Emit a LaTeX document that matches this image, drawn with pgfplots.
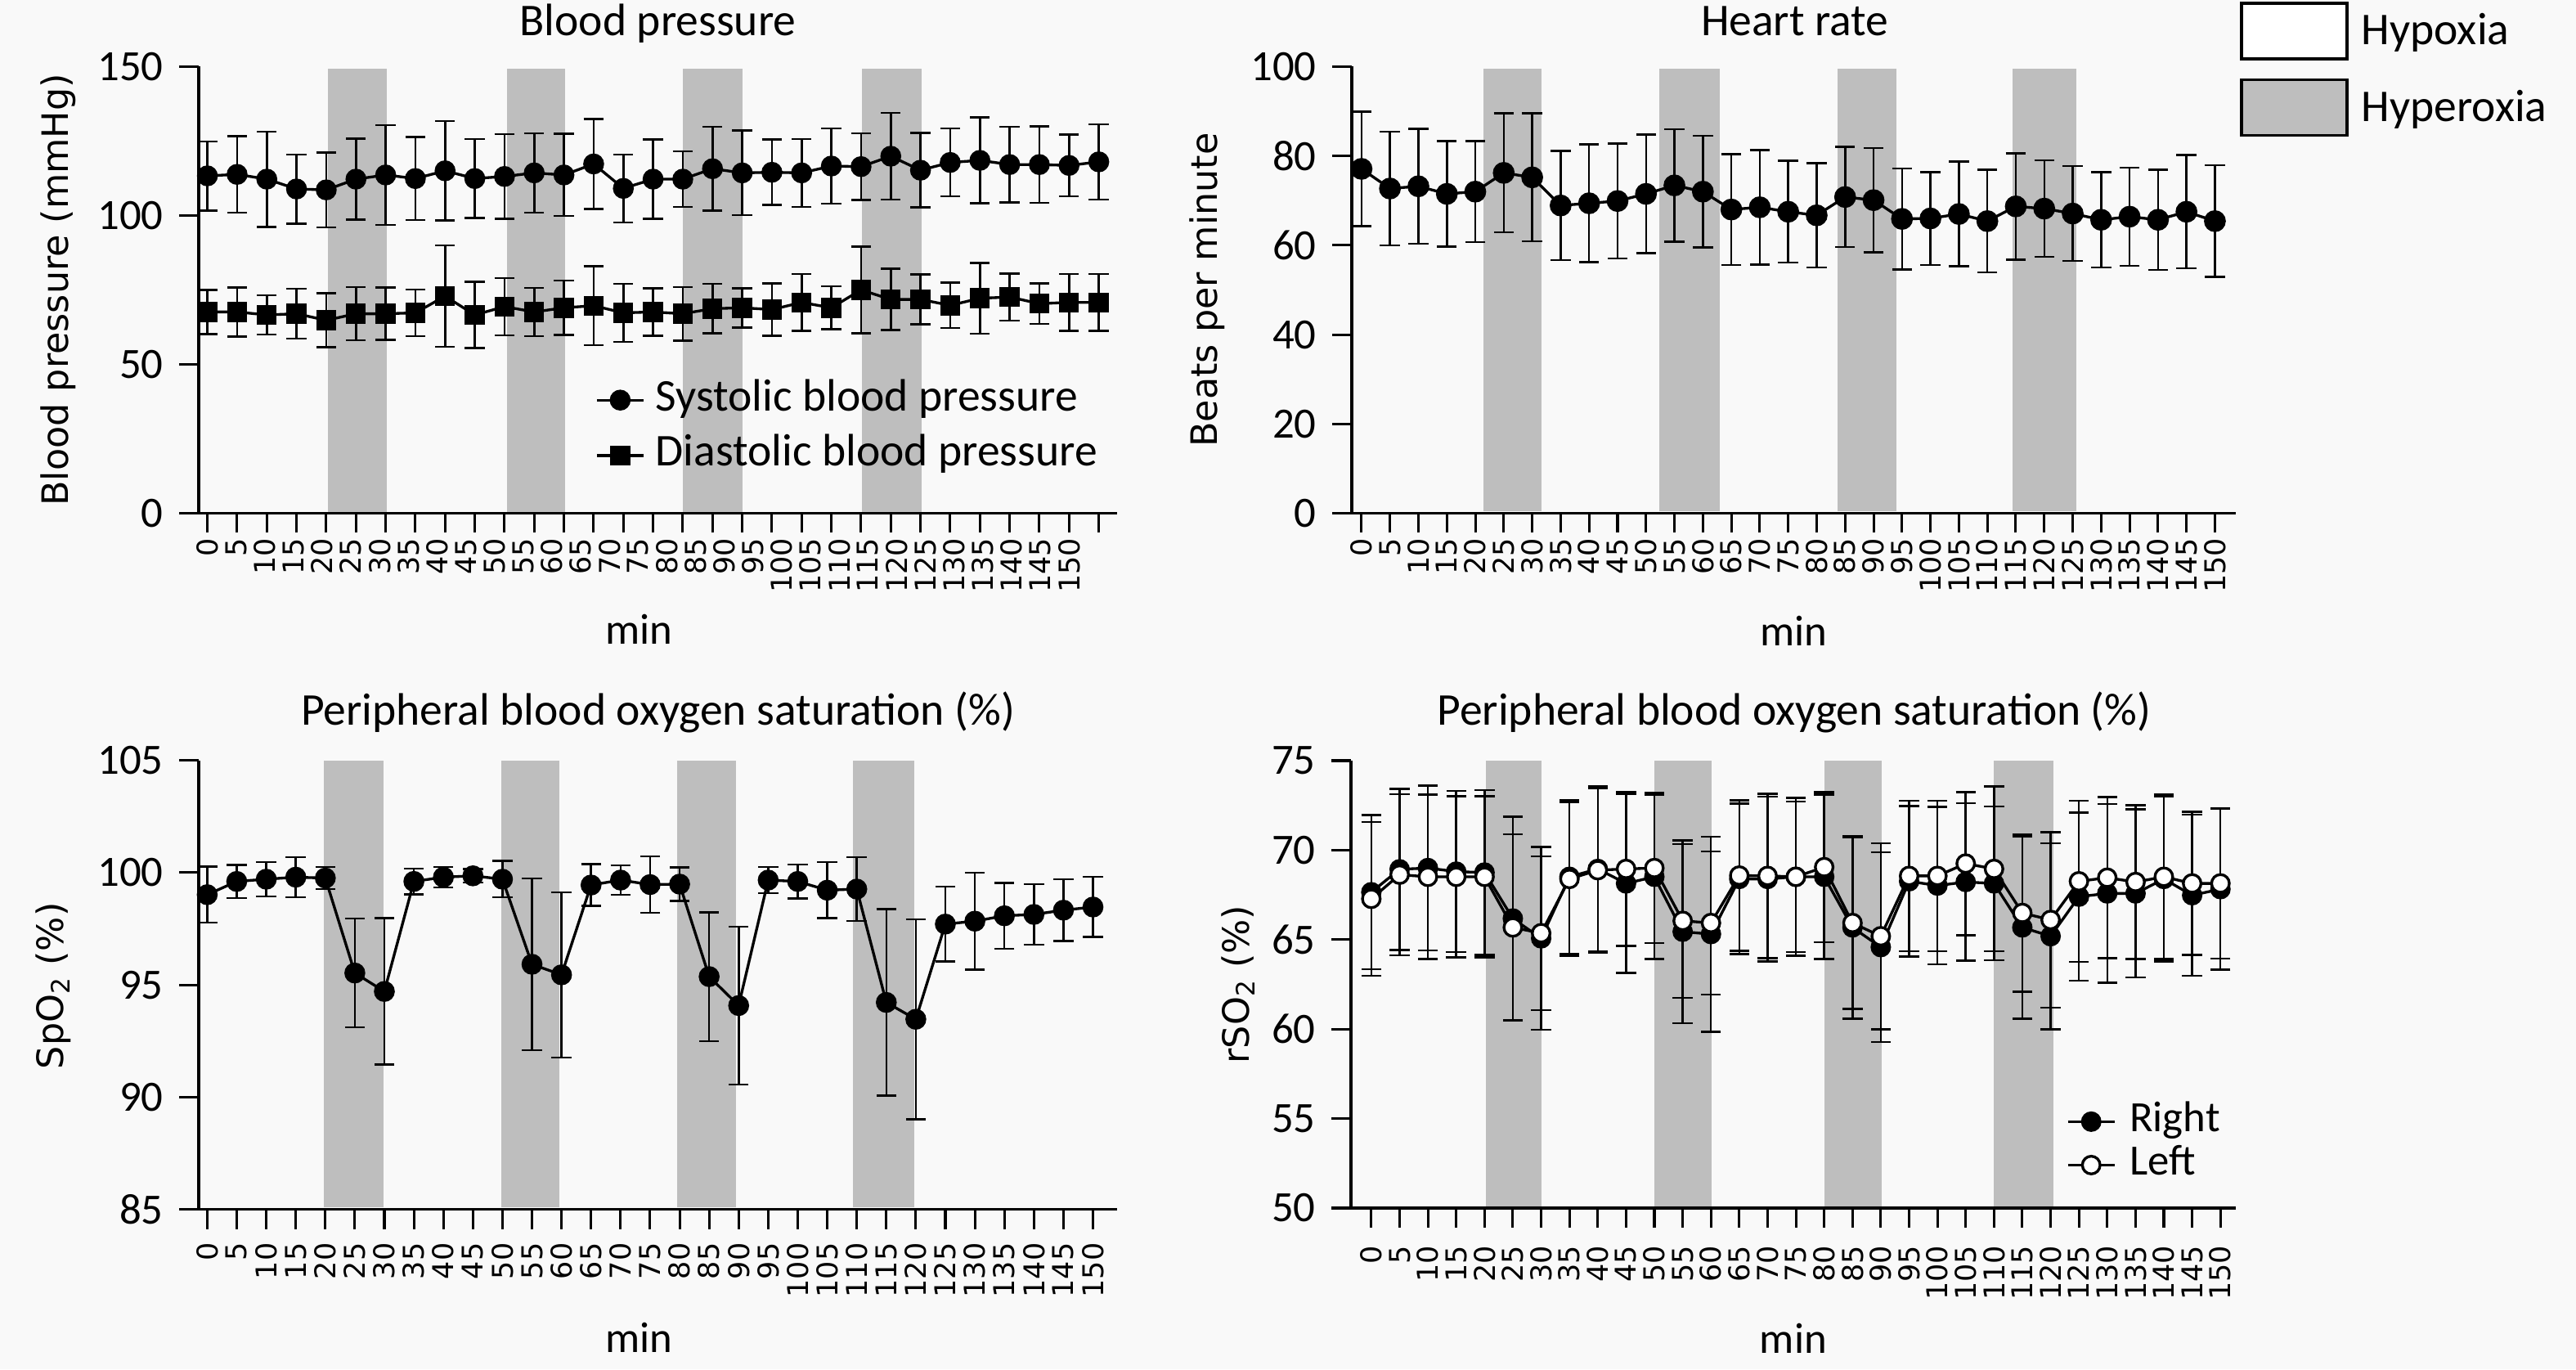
\documentclass[border=0pt]{standalone}
\usepackage{pgfplots}
\pgfplotsset{compat=1.18}
\usepackage{pgfplotstable}
\usepackage{fontspec}
\setmainfont{Carlito}
\newfontfamily\dejavu{DejaVu Sans}

\definecolor{shade}{RGB}{190,190,190}
\definecolor{paper}{RGB}{249,249,249}

% blood pressure (mmHg): systolic, diastolic, with error
\pgfplotstableread{
t sys syse dia diae
0 113.3 11.6 67.6 7.4
5 113.8 12.8 67.6 8.2
10 112.2 16.0 66.6 6.6
15 108.9 11.6 67.0 8.4
20 108.6 12.6 64.8 9.1
25 112.2 13.6 67.0 8.9
30 113.6 16.8 67.0 8.8
35 112.4 13.9 67.3 7.8
40 115.0 16.7 72.9 17.0
45 112.4 13.2 66.6 11.1
50 113.1 14.2 69.4 9.6
55 114.3 13.3 67.6 8.1
60 113.6 13.8 69.0 9.1
65 117.3 15.1 69.7 13.2
70 109.1 11.4 67.3 9.7
75 112.2 13.3 67.6 8.0
80 112.2 9.3 67.0 9.0
85 115.7 14.1 68.7 8.3
90 114.3 14.2 69.0 6.6
95 114.5 11.0 68.4 8.8
100 114.3 11.4 70.8 9.5
105 116.6 12.6 69.0 7.2
110 116.4 11.2 75.0 14.5
115 119.9 14.6 71.8 10.3
120 115.2 12.5 71.8 8.4
125 117.8 11.4 69.8 7.6
130 118.5 14.4 72.2 11.9
135 117.1 12.7 72.6 7.9
140 117.1 12.8 70.4 6.8
145 116.8 10.4 70.8 9.6
150 118.0 12.6 70.8 9.6
}\bptab

% heart rate
\pgfplotstableread{
t hr hre
0 77.1 12.8
5 72.7 12.7
10 73.2 12.9
15 71.5 11.8
20 72.0 11.3
25 76.2 13.3
30 75.2 14.3
35 68.9 12.2
40 69.4 13.2
45 69.9 12.9
50 71.5 13.3
55 73.4 12.6
60 72.0 12.5
65 68.0 12.4
70 68.5 12.8
75 67.5 11.4
80 66.7 11.7
85 70.8 11.2
90 70.1 11.7
95 65.9 11.3
100 66.0 10.4
105 67.0 11.7
110 65.4 11.5
115 68.7 11.9
120 68.2 10.8
125 67.1 10.6
130 65.7 10.7
135 66.4 11.0
140 65.7 11.2
145 67.5 12.7
150 65.4 12.5
}\hrtab

% SpO2
\pgfplotstableread{
t spo spoe
0 99.02 1.25
5 99.61 0.74
10 99.71 0.77
15 99.80 0.90
20 99.76 0.49
25 95.53 2.42
30 94.71 3.26
35 99.61 0.58
40 99.80 0.46
45 99.86 0.30
50 99.71 0.81
55 95.92 3.82
60 95.45 3.68
65 99.45 0.93
70 99.67 0.65
75 99.47 1.25
80 99.49 0.75
85 95.37 2.87
90 94.08 3.51
95 99.67 0.59
100 99.61 0.75
105 99.22 1.25
110 99.27 1.42
115 94.22 4.15
120 93.47 4.46
125 97.71 1.67
130 97.84 2.16
135 98.08 1.47
140 98.14 1.35
145 98.33 1.37
150 98.47 1.34
}\spotab

% rSO2 right / left
\pgfplotstableread{
t r re l le
0 67.65 4.3 67.28 4.3
5 68.93 4.5 68.63 4.5
10 69.00 4.6 68.51 4.6
15 68.80 4.5 68.51 4.5
20 68.75 4.6 68.51 4.5
25 66.18 5.7 65.68 5.2
30 65.07 5.1 65.36 4.3
35 68.51 4.3 68.39 4.3
40 68.95 4.6 68.88 4.6
45 68.14 5.0 68.95 4.3
50 68.51 4.6 69.00 4.2
55 65.44 5.1 66.05 4.3
60 65.31 5.45 65.93 4.0
65 68.39 4.2 68.58 4.2
70 68.39 4.6 68.56 4.6
75 68.51 4.2 68.51 4.4
80 68.51 4.6 69.05 4.2
85 65.68 5.1 65.93 4.8
90 64.58 5.3 65.19 5.2
95 68.26 4.2 68.56 4.2
100 68.02 4.4 68.56 4.2
105 68.22 4.4 69.25 4.0
110 68.14 4.3 68.95 4.6
115 65.68 5.1 66.49 4.4
120 65.19 5.2 66.10 4.9
125 67.40 4.7 68.26 4.5
130 67.58 5.0 68.46 4.5
135 67.58 4.7 68.22 4.3
140 68.39 4.6 68.51 4.6
145 67.48 4.5 68.14 4.0
150 67.82 4.5 68.14 4.2
}\rsotab

\pgfplotsset{
  panel/.style={
    scale only axis,
    axis lines=left,
    axis line style={-, line width=1.2pt},
    x axis line style={shorten <=-8.6pt},
    axis on top,
    tick align=outside,
    major tick length=8.6pt,
    tick style={line width=1.1pt, black},
    xtick={0,5,...,150},
    /pgf/number format/assume math mode=true,
    xticklabel style={font=\dejavu\fontsize{12.6}{13}\selectfont, rotate=90, anchor=east},
    yticklabel style={font=\fontsize{19}{20}\selectfont},
    yticklabel shift=3.5pt,
    title style={font=\fontsize{20}{24}\selectfont, anchor=base},
    xlabel={min},
    xlabel style={font=\fontsize{19}{24}\selectfont, anchor=base},
    ylabel style={font=\dejavu\fontsize{16}{19}\selectfont, anchor=center},
    legend cell align=left,
    legend image code/.code={\draw[mark repeat=2,mark phase=2,#1] plot coordinates {(0pt,0pt) (10.3pt,0pt) (20.6pt,0pt)};},
  },
  series/.style={black, line width=1.2pt, mark=*, mark size=4pt, mark options={solid},
    error bars/y dir=both, error bars/y explicit,
    error bars/error bar style={line width=0.9pt},
    error bars/error mark options={rotate=90, line width=0.9pt, mark size=4.4pt}},
  band/.style={fill=shade, draw=none, forget plot},
}

\begin{document}
\begin{tikzpicture}
\useasboundingbox (0,0) rectangle (1134pt,-602.64pt);
\fill[paper] (0,0) rectangle (1134pt,-602.64pt);

% ---- blood pressure
\begin{axis}[panel, at={(87.5pt,-225.9pt)}, anchor=south west,
  width=404.3pt, height=196.6pt,
  xmin=-1.45, xmax=153.1, ymin=0, ymax=150, ytick={0,50,100,150},
  xticklabel=\empty,
  extra x ticks={0,4.83,9.67,14.5,19.33,24.17,29,33.83,38.67,43.5,48.33,53.17,58,62.83,67.67,72.5,77.33,82.17,87,91.83,96.67,101.5,106.33,111.17,116,120.83,125.67,130.5,135.33,140.17,145},
  extra x tick labels={0,5,10,15,20,25,30,35,40,45,50,55,60,65,70,75,80,85,90,95,100,105,110,115,120,125,130,135,140,145,150},
  extra x tick style={tick style={draw=none}},
  xticklabel shift=-1.2pt,
  title={Blood pressure}, title style={at={(axis description cs:0.5,1.038)}},
  xlabel style={at={(axis description cs:0.479,-0.293)}},
  ylabel={Blood pressure (mmHg)}, ylabel style={at={(axis description cs:-0.153,0.5)}},
  legend style={at={(axis description cs:0.4319,0.300)}, anchor=north west, draw=none, fill=none,
    inner sep=0pt, outer sep=0pt, font=\fontsize{20}{24}\selectfont,
    row sep=6pt, column sep=4.7pt, nodes={inner sep=0pt, text depth=4.5pt}},
]
\addplot[band] coordinates {(20.3,0.5) (20.3,149.3) (30.2,149.3) (30.2,0.5)};
\addplot[band] coordinates {(50.4,0.5) (50.4,149.3) (60.2,149.3) (60.2,0.5)};
\addplot[band] coordinates {(80.0,0.5) (80.0,149.3) (90.1,149.3) (90.1,0.5)};
\addplot[band] coordinates {(110.1,0.5) (110.1,149.3) (120.2,149.3) (120.2,0.5)};
\addplot[series] table[x=t, y=sys, y error=syse] {\bptab};
\addlegendentry{Systolic blood pressure}
\addplot[series, mark=square*, mark size=3.8pt] table[x=t, y=dia, y error=diae] {\bptab};
\addlegendentry{Diastolic blood pressure}
\end{axis}

% ---- heart rate
\begin{axis}[panel, at={(595.1pt,-225.9pt)}, anchor=south west,
  width=389.2pt, height=196.6pt,
  xmin=-1.7, xmax=153.7, ymin=0, ymax=100, ytick={0,20,...,100},
  xticklabel shift=-1.2pt,
  title={Heart rate}, title style={at={(axis description cs:0.501,1.038)}},
  xlabel style={at={(axis description cs:0.5,-0.296)}},
  ylabel={Beats per minute}, ylabel style={at={(axis description cs:-0.1637,0.5)}},
  legend style={at={(axis description cs:1.0046,1.1449)}, anchor=north west, draw=none, fill=none,
    inner sep=0pt, outer sep=0pt, font=\fontsize{20}{24}\selectfont,
    row sep=8pt, column sep=5.8pt, nodes={inner sep=0pt}},
]
\addplot[band] coordinates {(21.4,0.4) (21.4,99.6) (31.7,99.6) (31.7,0.4)};
\addplot[band] coordinates {(52.4,0.4) (52.4,99.6) (63.0,99.6) (63.0,0.4)};
\addplot[band] coordinates {(83.6,0.4) (83.6,99.6) (94.0,99.6) (94.0,0.4)};
\addplot[band] coordinates {(114.5,0.4) (114.5,99.6) (125.6,99.6) (125.6,0.4)};
\addplot[series, forget plot, mark size=4.2pt] table[x=t, y=hr, y error=hre] {\hrtab};
\addlegendimage{legend image code/.code={\draw[line width=1.3pt, fill=white] (0pt,-12.2pt) rectangle (46.4pt,12.2pt);}}
\addlegendentry{Hypoxia}
\addlegendimage{legend image code/.code={\draw[line width=1.3pt, fill=shade] (0pt,-12.2pt) rectangle (46.4pt,12.2pt);}}
\addlegendentry{Hyperoxia}
\end{axis}

% ---- SpO2
\begin{axis}[panel, at={(87.5pt,-532.3pt)}, anchor=south west,
  width=404.3pt, height=197.6pt,
  xmin=-1.43, xmax=154.1, ymin=85, ymax=105, ytick={85,90,...,105},
  xticklabel shift=2.6pt,
  title={Peripheral blood oxygen saturation (\%)}, title style={at={(axis description cs:0.5,1.048)}},
  xlabel style={at={(axis description cs:0.479,-0.318)}},
  ylabel={SpO\textsubscript{2} (\%)}, ylabel style={at={(axis description cs:-0.158,0.498)}},
]
\addplot[band] coordinates {(19.8,85.1) (19.8,105) (29.9,105) (29.9,85.1)};
\addplot[band] coordinates {(49.8,85.1) (49.8,105) (59.7,105) (59.7,85.1)};
\addplot[band] coordinates {(79.6,85.1) (79.6,105) (89.5,105) (89.5,85.1)};
\addplot[band] coordinates {(109.3,85.1) (109.3,105) (119.7,105) (119.7,85.1)};
\addplot[series] table[x=t, y=spo, y error=spoe] {\spotab};
\end{axis}

% ---- rSO2
\begin{axis}[panel, at={(594.7pt,-531.7pt)}, anchor=south west,
  width=389.5pt, height=196.9pt,
  xmin=-3.6, xmax=152.7, ymin=50, ymax=75, ytick={50,55,...,75},
  xticklabel shift=4.4pt,
  title={Peripheral blood oxygen saturation (\%)}, title style={at={(axis description cs:0.501,1.049)}},
  xlabel style={at={(axis description cs:0.5,-0.324)}},
  ylabel={rSO\textsubscript{2} (\%)}, ylabel style={at={(axis description cs:-0.1275,0.5)}},
  legend style={at={(axis description cs:0.8087,0.238)}, anchor=north west, draw=none, fill=none,
    inner sep=0pt, outer sep=0pt, font=\fontsize{19}{22}\selectfont,
    row sep=1.5pt, column sep=6pt, nodes={inner sep=0pt, text depth=4.5pt}},
]
\addplot[band] coordinates {(20.2,50.1) (20.2,75) (30.1,75) (30.1,50.1)};
\addplot[band] coordinates {(50.0,50.1) (50.0,75) (60.1,75) (60.1,50.1)};
\addplot[band] coordinates {(80.0,50.1) (80.0,75) (90.1,75) (90.1,50.1)};
\addplot[band] coordinates {(110.0,50.1) (110.0,75) (120.5,75) (120.5,50.1)};
\addplot[series, mark size=3.9pt] table[x=t, y=r, y error=re] {\rsotab};
\addlegendentry{Right}
\addplot[series, mark size=3.9pt, mark options={solid, fill=white}] table[x=t, y=l, y error=le] {\rsotab};
\addlegendentry{Left}
\end{axis}
\end{tikzpicture}
\end{document}
